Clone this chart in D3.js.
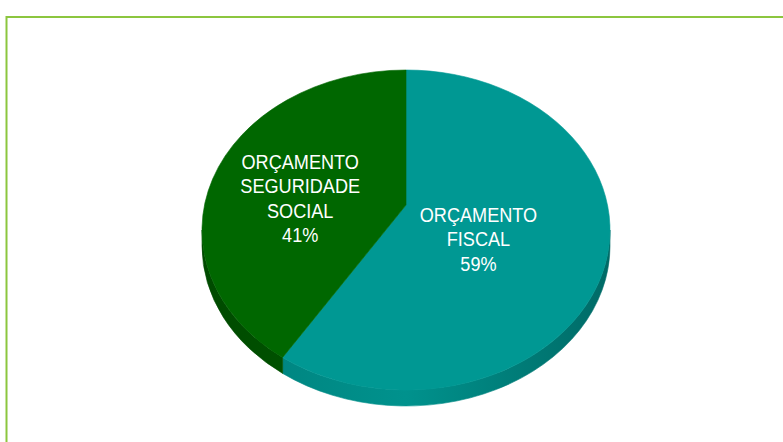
<!DOCTYPE html>
<html>
<head>
<meta charset="utf-8">
<script src="https://cdnjs.cloudflare.com/ajax/libs/d3/7.8.5/d3.min.js"></script>
<style>
    html, body { margin: 0; padding: 0; background: #ffffff; }
    svg { display: block; }
</style>
</head>
<body>
<div id="budgetPie"><svg></svg></div>
<script>
/** Chart data **/
var categories = ["ORÇAMENTO FISCAL", "ORÇAMENTO SEGURIDADE SOCIAL"];
var shares     = [59, 41];
var colors     = ["#009893", "#006700"];
var wallColors = [["#007f7b", "#00928d", "#006a66"], ["#004a00", "#005a00", "#005e00"]];


/**
 * Draws the 3D-looking pie (elliptical top face + front wall).
 */
function drawModule_pie()
{
    var graphName = "budgetPie";
    var mod_width = 783;
    var mod_height = 442;

    var cx = 406;           // centre of the top ellipse
    var cy = 230;
    var rx = 204;
    var ry = 160;
    var apexY = 205;        // where the slices meet (perspective centre)
    var depth = 16;         // thickness of the pie
    var labelRadius = [0.37, 0.54];
    var labelShift = 18;
    var lineHeight = 24.5;

    var svg = d3.select("#" + graphName)
        .select("svg")
        .attr("width", mod_width)
        .attr("height", mod_height);

    // Green frame round the chart area.
    svg.append("rect")
        .attr("x", 6.5)
        .attr("y", 17)
        .attr("width", 820)
        .attr("height", 460)
        .style("fill", "none")
        .style("stroke", "#8cc63f")
        .style("stroke-width", 2);

    var pie = d3.pie()
        .sort(null)
        .value(function(d) { return d.value; });

    var data = categories.map(function(c, i) {
        return { name: c, value: shares[i], index: i };
    });
    var arcs = pie(data);

    // Ray from the perspective centre to the ellipse rim, returns param angle.
    var k = (apexY - cy) / ry;
    function rimAngle(theta)
    {
        var c = Math.cos(theta);
        var s = Math.sin(theta);
        var t = k * c + Math.sqrt(k * k * c * c - k * k + 1);
        var ux = t * s;
        var uy = k - t * c;
        return Math.atan2(ux, -uy);
    }
    function rimPoint(psi, dy)
    {
        return [cx + rx * Math.sin(psi), cy - ry * Math.cos(psi) + (dy || 0)];
    }
    function norm(a)
    {
        while (a < 0) a += 2 * Math.PI;
        return a;
    }

    // Front wall (visible between the left and right extremes of the rim).
    var defs = svg.append("defs");
    arcs.forEach(function(d, i) {
        var g = defs.append("linearGradient")
            .attr("id", "wall" + i)
            .attr("gradientUnits", "userSpaceOnUse")
            .attr("x1", cx - rx).attr("x2", cx + rx)
            .attr("y1", 0).attr("y2", 0);
        g.append("stop").attr("offset", "0%").attr("stop-color", wallColors[i][0]);
        g.append("stop").attr("offset", "50%").attr("stop-color", wallColors[i][1]);
        g.append("stop").attr("offset", "100%").attr("stop-color", wallColors[i][2]);
    });

    var walls = svg.append("g").attr("id", "wallsPie");
    arcs.forEach(function(d, i) {
        var a0 = norm(rimAngle(d.startAngle));
        var a1 = norm(rimAngle(d.endAngle));
        if (i === arcs.length - 1 && a1 <= a0) a1 += 2 * Math.PI;
        var lo = Math.max(a0, Math.PI / 2);
        var hi = Math.min(a1, 3 * Math.PI / 2);
        if (hi <= lo) return;

        var p0 = rimPoint(lo), p1 = rimPoint(hi);
        var q1 = rimPoint(hi, depth), q0 = rimPoint(lo, depth);
        var big = (hi - lo) > Math.PI ? 1 : 0;
        var path = "M" + p0 + "A" + rx + "," + ry + " 0 " + big + " 1 " + p1 +
                   "L" + q1 + "A" + rx + "," + ry + " 0 " + big + " 0 " + q0 + "Z";
        walls.append("path")
            .attr("d", path)
            .style("fill", "url(#wall" + i + ")")
            .style("stroke", "url(#wall" + i + ")")
            .style("stroke-width", 0.6);
    });

    // Top faces of the slices.
    var tops = svg.append("g").attr("id", "slicesPie");
    arcs.forEach(function(d, i) {
        var a0 = rimAngle(d.startAngle);
        var a1 = rimAngle(d.endAngle);
        var span = norm(a1 - a0);
        if (span === 0) span = 2 * Math.PI;
        var p0 = rimPoint(a0), p1 = rimPoint(a1);
        var big = span > Math.PI ? 1 : 0;
        var path = "M" + cx + "," + apexY + "L" + p0 +
                   "A" + rx + "," + ry + " 0 " + big + " 1 " + p1 + "Z";
        tops.append("path")
            .attr("d", path)
            .style("fill", colors[i])
            .style("stroke", colors[i])
            .style("stroke-width", 0.6);
    });

    // Labels: category words on separate lines, then the share.
    var labels = svg.append("g").attr("id", "labelsPie");
    arcs.forEach(function(d, i) {
        var mid = (d.startAngle + d.endAngle) / 2;
        var lx = cx + rx * labelRadius[i] * Math.sin(mid);
        var ly = apexY - ry * labelRadius[i] * Math.cos(mid) + labelShift;
        var lines = d.data.name.split(" ").concat([d.data.value + "%"]);
        var top = ly - (lines.length - 1) * lineHeight / 2;

        // Slightly narrowed type, like the original's condensed face.
        var txt = labels.append("text")
            .attr("transform", "translate(" + lx + ",0) scale(0.93,1)")
            .attr("text-anchor", "middle")
            .style("font-family", "'Liberation Sans', Arial, sans-serif")
            .style("font-size", "19.5px")
            .style("fill", "#ffffff");
        lines.forEach(function(line, j) {
            txt.append("tspan")
                .attr("x", 0)
                .attr("y", top + j * lineHeight)
                .attr("dy", "0.35em")
                .text(line);
        });
    });
}

drawModule_pie();
</script>
</body>
</html>
